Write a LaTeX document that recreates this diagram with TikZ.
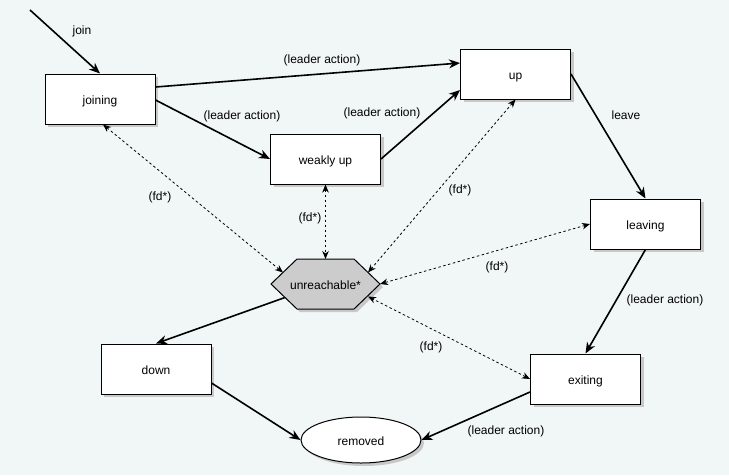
\documentclass[tikz,border=0pt]{standalone}
\usepackage{fontspec}
\setmainfont{Liberation Sans}
\usetikzlibrary{arrows.meta,shadows,calc,shapes.geometric}
\definecolor{bg}{RGB}{241,246,247}
\definecolor{hexfill}{RGB}{204,204,204}
\definecolor{shad}{RGB}{200,200,200}
\begin{document}
\begin{tikzpicture}[x=1pt,y=-1pt,
  font=\fontsize{12}{14}\selectfont,
  state/.style={draw=black, fill=white, line width=1pt, minimum width=110pt, minimum height=50pt, inner sep=0pt,
    text height=10.5pt, text depth=0pt,
    drop shadow={shadow xshift=3pt,shadow yshift=-3pt,fill=shad,opacity=1}},
  endstate/.style={ellipse, draw=black, fill=white, line width=1pt, minimum width=120pt, minimum height=46pt, inner sep=0pt,
    text height=10.5pt, text depth=0pt,
    drop shadow={shadow xshift=3pt,shadow yshift=-3pt,fill=shad,opacity=1}},
  trans/.style={line width=1.6pt, -{Stealth[length=11pt,width=9pt,inset=3.5pt]}},
  fdline/.style={line width=0.8pt, dash pattern=on 2.5pt off 2.5pt,
    {Stealth[length=8pt,width=6.5pt,inset=2.5pt]}-{Stealth[length=8pt,width=6.5pt,inset=2.5pt]}},
  lbl/.style={inner sep=0pt}]
\useasboundingbox[fill=bg] (0,0) rectangle (729,475);

% states
\node[state] (joining) at (100,99) {joining};
\node[state] (up) at (515.5,74) {up};
\node[state] (weakly) at (325.5,159) {weakly up};
\node[state] (leaving) at (645.5,224) {leaving};
\node[state] (exiting) at (585.5,379) {exiting};
\node[state] (down) at (156,369) {down};
\node[endstate] (removed) at (361,440) {removed};

% hexagon
\fill[shad] (274,287) -- (300,262) -- (357,262) -- (383,287) -- (357,312) -- (300,312) -- cycle;
\draw[fill=hexfill, line width=1pt] (271,284) -- (297,259) -- (354,259) -- (380,284) -- (354,309) -- (297,309) -- cycle;
\node[inner sep=0pt, text height=10.5pt, text depth=0pt] (unreach) at (325.5,284) {unreachable*};
\coordinate (hJ) at (283,272.5);
\coordinate (hW) at (325.5,259);
\coordinate (hU) at (368,272.5);
\coordinate (hL) at (380,284);
\coordinate (hE) at (368,296.5);
\coordinate (hD) at (285,297.5);
\coordinate (start) at (30,10);

% transitions
\draw[trans] (start) -- (joining.north);
\node[lbl] (joinlbl) at (82,31) {join};
\draw[trans] ($(joining.east)+(0,-12)$) -- ($(up.west)+(0,-11)$);
\node[lbl] (l1) at (322,60) {(leader action)};
\draw[trans] ($(joining.east)+(0,1)$) -- (weakly.west);
\node[lbl] (l2) at (242,116) {(leader action)};
\draw[trans] (weakly.east) -- ($(up.west)+(0,16)$);
\node[lbl] (l3) at (382,113) {(leader action)};
\draw[trans] (up.east) -- (leaving.north);
\node[lbl] (l4) at (626,115) {leave};
\draw[trans] (leaving.south) -- (exiting.north);
\node[lbl] (l5) at (665,300) {(leader action)};
\draw[trans] ($(exiting.west)+(0,13)$) -- (removed.east);
\node[lbl] (l6) at (506,431) {(leader action)};
\draw[trans] (hD) -- (down.north);
\draw[trans] ($(down.east)+(0,14)$) -- (removed.west);

% failure detector
\draw[fdline] ($(joining.south)+(3,0)$) -- (hJ);
\node[lbl] (f1) at (160,197) {(fd*)};
\draw[fdline] (weakly.south) -- (hW);
\node[lbl] (f2) at (310,218) {(fd*)};
\draw[fdline] (up.south) -- (hU);
\node[lbl] (f3) at (460,190) {(fd*)};
\draw[fdline] (leaving.west) -- (hL);
\node[lbl] (f4) at (497,267) {(fd*)};
\draw[fdline] (exiting.west) -- (hE);
\node[lbl] (f5) at (431,347) {(fd*)};
\end{tikzpicture}
\end{document}
